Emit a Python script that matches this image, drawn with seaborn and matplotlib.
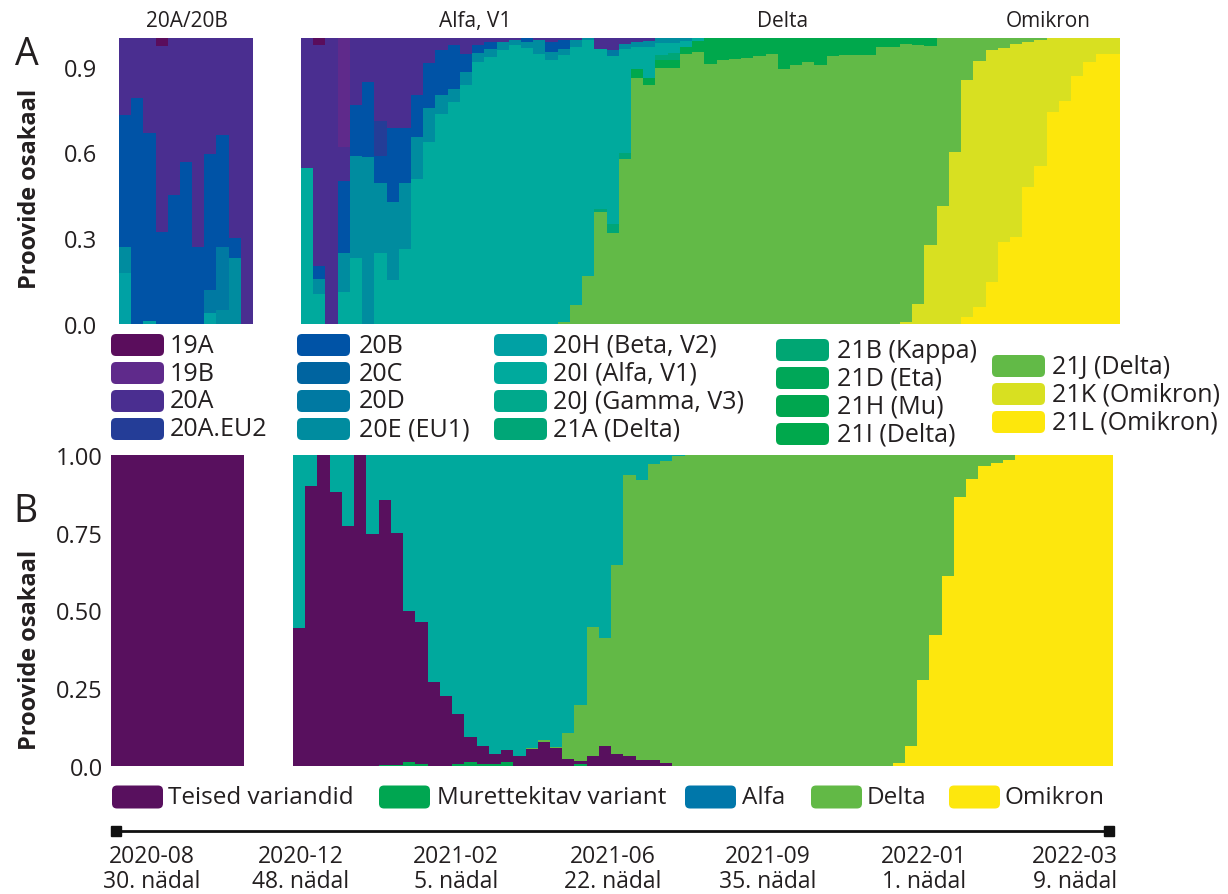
import pandas as pd
import matplotlib
matplotlib.use("Agg")
import matplotlib.pyplot as plt
from matplotlib.patches import FancyBboxPatch
import seaborn as sns

# ---- clades (panel A), first one sits on top of the stack ----
clades = ["19A", "19B", "20A", "20A.EU2", "20B", "20C", "20D", "20E (EU1)",
          "20H (Beta, V2)", "20I (Alfa, V1)", "20J (Gamma, V3)", "21A (Delta)",
          "21B (Kappa)", "21D (Eta)", "21H (Mu)", "21I (Delta)",
          "21J (Delta)", "21K (Omikron)", "21L (Omikron)"]
clade_colors = ["#5a0d5c", "#5f2a8b", "#4a2e90", "#243d97", "#0053a6", "#0064a0",
                "#0079a2", "#008c9f", "#00a1a4", "#00aa9d", "#00a98c", "#00a677",
                "#00a673", "#00a758", "#00a64f", "#00a84c",
                "#62ba47", "#d8e021", "#fde70c"]

# panel A, 2020 weeks 30-40
al_19A = [0, 0, 0, .028, 0, 0, 0, 0, 0, 0, 0]
al_20A = [.27, .21, .333, .652, .55, .434, .732, .404, .34, .70, 1.0]
al_20B = [.46, .79, .655, .32, .45, .566, .268, .476, .39, .07, 0]
al_20D = [0, 0, 0, 0, 0, 0, 0, .08, .22, 0, 0]
al_20E = [.09, 0, 0, 0, 0, 0, 0, 0, .05, .23, 0]
al_20H = [.18, 0, .012, 0, 0, 0, 0, .04, 0, 0, 0]

# panel A, 2020 week 48 .. 2022 week 9
a_19A = [0, .026] + [0] * 65
a_19B = [0, 0, 0, .38] + [0] * 63
a_20A = [.455, .772, 1.0, .12, .236, .153, .29, .315, .315, .2,
         .088, .043, .023, .055, .024, .014, .013, .008, 0, .008,
         .013, .007, .006, 0, .038, .041, .02, .013, .011] + [0] * 38
a_20AEU2 = [0] * 6 + [.123] + [0] * 60
a_20B = [0, .044, 0, .25, .177, .263, .093, .257, .191, .146,
         .158, .158, .154, .064, .03, .023, 0, 0, .014, 0,
         .035, .03] + [0] * 45
a_20D = [0] * 25 + [.023] + [0] * 41
a_20E = [0, .053, 0, .138, .357, .584, .245, .274, .231, .146,
         .117, .064, .047, .047, .03, .03, .03, .018, .021, .047,
         .03, .023, .026, .008, 0, 0, .02, .018, .02, .018,
         .018, .012] + [0] * 35
a_20I = [.545, .105, 0, .111, .23, 0, .249, .152, .263, .508,
         .636, .735, .776, .834, .916, .933, .957, .974, .965, .945,
         .922, .934, .901, .823, .56, .583, .362, .076, .109, .04,
         .035, .02, .009] + [0] * 34
a_21A = [0] * 24 + [.012, .03, .02, 0, 0, .02, .023] + [0] * 36
a_21I = [0] * 27 + [.033, .026, .027, .027, .023, .041, .09, .076, .072, .069,
                    .063, .057, .11, .093, .084, .093, .063, .061, .061, .058,
                    .032, .032, .02, .026, .028] + [0] * 15
a_21J = [0] * 21 + [.006, .067, .169, .39, .318, .575, .86, .834, .895,
                    .895, .945, .95, .91, .924, .928, .931, .937, .943, .89,
                    .907, .916, .907, .937, .939, .939, .942, .968, .968, .972,
                    .904, .695, .586, .397, .148, .082, .043, .034, .022, .014,
                    .007] + [0] * 6
a_21K = [0] * 49 + [.008, .07, .277, .414, .603, .829, .86, .809, .678, .675,
                    .508, .441, .259, .22, .134, .084, .055, .055]
a_21L = [0] * 54 + [.023, .058, .148, .288, .303, .478, .552, .741, .78, .866,
                    .916, .945, .945]

# ---- variant groups (panel B), first one on top ----
groups = ["Alfa", "Delta", "Omikron", "Teised variandid", "Murettekitav variant"]
group_colors = {"Alfa": "#00a99d", "Delta": "#62b946", "Omikron": "#fde70d",
                "Teised variandid": "#58105e", "Murettekitav variant": "#00a651"}
legend_b_names = ["Teised variandid", "Murettekitav variant", "Alfa", "Delta", "Omikron"]
legend_b_colors = ["#58105e", "#00a651", "#0077aa", "#62b946", "#fde70d"]

bl_teised = [1.0, 1.0, 1.0, 1.0, 1.0, 1.0, 1.0, 1.0, 1.0, 1.0, 1.0]

b_teised = [.444, .899, 1.0, .882, .773, 1.0, .746, .851, .744, .485,
            .459, .269, .224, .162, .081, .058, .034, .039, .033, .054,
            .076, .057, .022, .010, .033, .065, .039, .033, .019, .019,
            .010] + [0] * 36
b_muret = [0] * 7 + [.004, .004, .013, .005, 0, 0, .005, .013, .005, .005,
                     .012, 0, 0, 0, 0, 0, .005] + [0] * 43
b_alfa = [.556, .101, 0, .118, .227, 0, .254, .145, .252, .502,
          .536, .731, .776, .833, .906, .937, .961, .949, .967, .941,
          .916, .938, .894, .804, .552, .587, .354, .064, .080, .029,
          .018, .004] + [0] * 35
b_delta = [0] * 19 + [.005, .008, .005, .084, .181, .415, .348, .607, .903, .901,
                      .952, .972, .996] + [1.0] * 17 + \
          [.99, .935, .722, .579, .388, .134, .077, .036, .026, .015] + [0] * 8
b_omikron = [0] * 49 + [.01, .065, .278, .421, .612, .866, .923, .964, .974, .985] + [1.0] * 8

timeline_dates = ["2020-08", "2020-12", "2021-02", "2021-06", "2021-09", "2022-01", "2022-03"]
timeline_weeks = ["30. nädal", "48. nädal", "5. nädal", "22. nädal", "35. nädal", "1. nädal", "9. nädal"]


def to_long(series, order):
    n = len(next(iter(series.values())))
    frames = []
    for name in order:
        vals = series.get(name, [0] * n)
        frames.append(pd.DataFrame({"week": range(n), "group": name, "share": vals}))
    return pd.concat(frames, ignore_index=True)


sns.set_theme(style="white")
plt.rcParams["font.family"] = ["Open Sans", "DejaVu Sans"]
TXT = "#231f20"

W, H = 1228, 895
fig = plt.figure(figsize=(W / 100, H / 100), dpi=100)


def px_axes(x0, y0, x1, y1):
    return fig.add_axes([x0 / W, 1 - y1 / H, (x1 - x0) / W, (y1 - y0) / H])


def draw_segment(ax, df, order, palette):
    sns.histplot(data=df, x="week", hue="group", weights="share", hue_order=order,
                 palette=palette, multiple="fill", discrete=True, element="step",
                 linewidth=0, alpha=1, legend=False, ax=ax)
    n = df["week"].max() + 1
    ax.set_xlim(-0.5, n - 0.5)
    ax.set_ylim(0, 1)
    ax.set_xticks([])
    ax.set_yticks([])
    ax.set(xlabel="", ylabel="")
    for s in ax.spines.values():
        s.set_visible(False)
    ax.tick_params(length=0, labelsize=17, labelcolor=TXT)


pal_a = dict(zip(clades, clade_colors))

# panel A
ax_al = px_axes(119, 39, 253, 325)
draw_segment(ax_al, to_long({"19A": al_19A, "20A": al_20A, "20B": al_20B, "20D": al_20D,
                             "20E (EU1)": al_20E, "20H (Beta, V2)": al_20H}, clades),
             clades, pal_a)
ax_al.set_yticks([0, 0.3, 0.6, 0.9], ["0.0", "0.3", "0.6", "0.9"])
ax_al.tick_params(axis="y", pad=16)

ax_ar = px_axes(301, 39, 1120, 325)
draw_segment(ax_ar, to_long({"19A": a_19A, "19B": a_19B, "20A": a_20A, "20A.EU2": a_20AEU2,
                             "20B": a_20B, "20D": a_20D, "20E (EU1)": a_20E,
                             "20I (Alfa, V1)": a_20I, "21A (Delta)": a_21A,
                             "21I (Delta)": a_21I, "21J (Delta)": a_21J,
                             "21K (Omikron)": a_21K, "21L (Omikron)": a_21L}, clades),
             clades, pal_a)

# panel B
ax_bl = px_axes(111, 456, 244, 767)
draw_segment(ax_bl, to_long({"Teised variandid": bl_teised}, groups), groups, group_colors)
ax_bl.set_yticks([0, 0.25, 0.5, 0.75, 1.0], ["0.0", "0.25", "0.50", "0.75", "1.00"])
ax_bl.tick_params(axis="y", pad=6)

ax_br = px_axes(293, 456, 1113, 767)
draw_segment(ax_br, to_long({"Alfa": b_alfa, "Delta": b_delta, "Omikron": b_omikron,
                             "Teised variandid": b_teised,
                             "Murettekitav variant": b_muret}, groups),
             groups, group_colors)

# overlay in pixel coordinates for labels, legends and timeline
ov = fig.add_axes([0, 0, 1, 1])
ov.set_xlim(0, W)
ov.set_ylim(H, 0)
ov.axis("off")

for txt, x in [("20A/20B", 187), ("Alfa, V1", 475), ("Delta", 783), ("Omikron", 1048)]:
    ov.text(x, 21, txt, ha="center", va="center", fontsize=15, color=TXT)

ov.text(27, 55, "A", ha="center", va="center", fontsize=27, color=TXT)
ov.text(25, 512, "B", ha="center", va="center", fontsize=27, color=TXT)
for yc in (189, 650):
    ov.text(30, yc, "Proovide osakaal", rotation=90, ha="center", va="center",
            fontsize=17, fontweight="bold", color=TXT)


def swatch(x, yc, w, h, color):
    ov.add_patch(FancyBboxPatch((x, yc - h / 2), w, h,
                                boxstyle="round,pad=0,rounding_size=5",
                                fc=color, ec="none"))


# legend A: five columns
rows1 = [346, 374, 402, 430]
rows4 = [351, 379, 407, 435]
rows5 = [367, 395, 423]
legend_cols = [(111, 170, rows1, 0), (297, 359, rows1, 4), (494, 553, rows1, 8),
               (776, 837, rows4, 12), (992, 1052, rows5, 16)]
for sx, tx, rows, start in legend_cols:
    for k, yc in enumerate(rows):
        i = start + k
        swatch(sx, yc, 53, 22, clade_colors[i])
        ov.text(tx, yc, clades[i], ha="left", va="center", fontsize=18, color=TXT)

# legend B
for sx, tx, name, col in zip([112, 379, 685, 811, 949], [168, 437, 742, 867, 1004],
                             legend_b_names, legend_b_colors):
    swatch(sx, 798, 51, 23, col)
    ov.text(tx, 798, name, ha="left", va="center", fontsize=17.5, color=TXT)

# timeline
ov.plot([116, 1109], [832, 832], color="#111111", lw=2, solid_capstyle="butt")
ov.plot([116, 1109], [832, 832], ls="none", marker="s", ms=7, color="#111111")
for x, d, wk in zip([152, 301, 456, 613, 768, 924, 1075], timeline_dates, timeline_weeks):
    ov.text(x, 857, d, ha="center", va="center", fontsize=16.5, color=TXT)
    ov.text(x, 882, wk, ha="center", va="center", fontsize=16.5, color=TXT)

fig.savefig("out.png", dpi=100, facecolor="white")
